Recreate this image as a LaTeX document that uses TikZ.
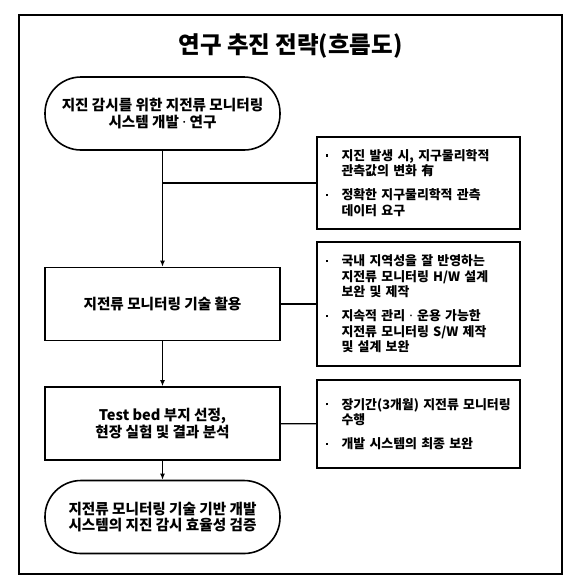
\documentclass[tikz,border=0pt]{standalone}
\usepackage{fontspec}
\setmainfont{Noto Sans CJK KR}
\newfontfamily\latinfont{Noto Sans}
\usetikzlibrary{arrows.meta}

\newcommand{\bul}{\makebox[16.5pt][l]{\hspace*{1pt}\raisebox{3.8pt}{\rule{2.2pt}{2.2pt}}}}
\newcommand{\ind}{\hspace*{16.5pt}}
\newcommand{\mdot}{{\latinfont\bfseries ·}}

\tikzset{
  flowbox/.style={draw, line width=1.6pt, minimum width=235pt, minimum height=73pt,
    inner sep=0pt, align=center, font=\fontsize{14.6}{16.8}\selectfont\bfseries},
  termbox/.style={flowbox, rounded corners=36pt},
  notebox/.style={draw, line width=1.6pt, text width=187pt, inner xsep=8pt,
    inner ysep=0pt, align=left, font=\fontsize{12.9}{15.5}\selectfont\bfseries},
  link/.style={line width=1.3pt},
  flow/.style={link, -{Latex[length=6pt,width=5pt]}}
}

\begin{document}
\begin{tikzpicture}[x=1pt,y=-1pt]
% \draw[step=10,gray,very thin] (0,0) grid (585,582);
\useasboundingbox (0,0) rectangle (585,582);
\draw[line width=2.4pt] (19,15) rectangle (562,574);

\node[font=\fontsize{23.5}{26}\selectfont\bfseries] (title) at (290.5,46) {연구 추진 전략(흐름도)};

%% main flow
\node[termbox] (start) at (162.5,113.5) {지진 감시를 위한 지전류 모니터링\\시스템 개발 \mdot{} 연구};
\node[flowbox] (tech) at (162.5,304) {지전류 모니터링 기술 활용};
\node[flowbox] (test) at (162.5,423.5) {Test bed 부지 선정,\\현장 실험 및 결과 분석};
\node[termbox] (goal) at (162.5,517) {지전류 모니터링 기술 기반 개발\\시스템의 지진 감시 효율성 검증};

%% notes
\node[notebox, minimum height=92pt] (need) at (418.5,183)
  {\bul 지진 발생 시, 지구물리학적\\ \ind 관측값의 변화 有\\[8.5pt]
   \bul 정확한 지구물리학적 관측\\ \ind 데이터 요구};
\node[notebox, minimum height=124pt] (make) at (418.5,304)
  {\bul 국내 지역성을 잘 반영하는\\ \ind 지전류 모니터링 H/W 설계\\ \ind 보완 및 제작\\[8.5pt]
   \bul 지속적 관리 \mdot{} 운용 가능한\\ \ind 지전류 모니터링 S/W 제작\\ \ind 및 설계 보완};
\node[notebox, minimum height=88pt] (field) at (418.5,424)
  {\bul 장기간(3개월) 지전류 모니터링\\ \ind 수행\\[8.5pt]
   \bul 개발 시스템의 최종 보완};

\coordinate (branch) at (start.south |- need.west);
\draw[flow] (start)--(tech);
\draw[link] (branch)--(need.west);
\draw[link] (tech)--(make);
\draw[flow] (tech)--(test);
\draw[link] (test)--(field);
\draw[flow] (test)--(goal);

\end{tikzpicture}
\end{document}
